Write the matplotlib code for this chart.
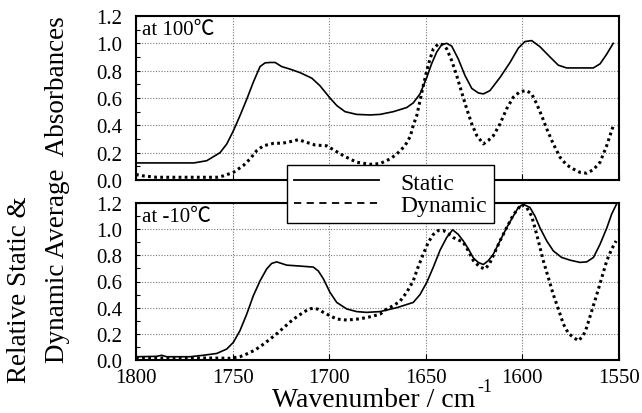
import matplotlib
matplotlib.use("Agg")
import matplotlib.pyplot as plt
from matplotlib.lines import Line2D
from matplotlib.ticker import MultipleLocator, FormatStrFormatter

plt.rcParams['font.family'] = ['Liberation Serif', 'Noto Sans CJK JP', 'DejaVu Sans']

# ---- spectra at 100 C ----
wn_hot_static = [1800, 1770, 1763.4, 1756.5, 1753, 1749.6, 1746.2, 1742.7, 1739.3, 1735.8,
                 1733.2, 1730.6, 1728, 1724.6, 1720, 1715, 1709, 1704.8, 1699.6, 1696.1,
                 1691.8, 1685.8, 1678.9, 1673.7, 1666.8, 1659.9, 1656.5, 1653, 1649.5,
                 1647, 1644.4, 1641.8, 1639.2, 1636.6, 1633.2, 1629.7, 1626.2, 1622.8,
                 1620.2, 1616.8, 1611.6, 1606.4, 1602.1, 1598.7, 1595.2, 1590.9, 1585.7,
                 1581.4, 1577.1, 1570.2, 1563.3, 1559.8, 1556.4, 1553]
hot_static = [0.125, 0.125, 0.141, 0.20, 0.264, 0.36, 0.47, 0.59, 0.715, 0.83,
              0.857, 0.86, 0.86, 0.83, 0.81, 0.785, 0.745, 0.69, 0.60, 0.545,
              0.50, 0.48, 0.476, 0.48, 0.50, 0.53, 0.564, 0.63, 0.75,
              0.85, 0.935, 0.99, 1.00, 0.98, 0.886, 0.764, 0.67, 0.637,
              0.63, 0.654, 0.75, 0.86, 0.965, 1.013, 1.02, 0.975, 0.90,
              0.84, 0.82, 0.82, 0.82, 0.85, 0.92, 1.00]

wn_hot_dynamic = [1800, 1796.2, 1789.3, 1758, 1754.8, 1749.6, 1744.5, 1741, 1737.5, 1734.1,
                  1728.9, 1723.8, 1719.4, 1716, 1711.6, 1707.3, 1701.3, 1697, 1692.7,
                  1685.8, 1678.9, 1673.7, 1668.5, 1665, 1660.8, 1658, 1656.5, 1654.7,
                  1653, 1651.3, 1649.5, 1647.8, 1646.1, 1643.5, 1641, 1639.2, 1636.6,
                  1634, 1631.4, 1628.8, 1626.2, 1623.6, 1620.2, 1617.6, 1615, 1611.6,
                  1608.2, 1604.7, 1601.2, 1597.8, 1595.2, 1592.6, 1590, 1587.4, 1584,
                  1580.5, 1577.1, 1573.6, 1570.2, 1566.7, 1563.3, 1559.8, 1556.4, 1552.9]
hot_dynamic = [0.04, 0.03, 0.02, 0.02, 0.03, 0.056, 0.105, 0.154, 0.215, 0.25,
               0.268, 0.27, 0.283, 0.295, 0.275, 0.256, 0.25, 0.215, 0.178,
               0.13, 0.115, 0.12, 0.154, 0.19, 0.25, 0.32, 0.40, 0.47,
               0.58, 0.69, 0.80, 0.886, 0.96, 0.996, 0.99, 0.96, 0.874,
               0.764, 0.64, 0.52, 0.41, 0.325, 0.264, 0.29, 0.325, 0.41,
               0.52, 0.606, 0.647, 0.654, 0.63, 0.557, 0.47, 0.374, 0.264,
               0.166, 0.11, 0.08, 0.056, 0.05, 0.075, 0.13, 0.25, 0.40]

# ---- spectra at -10 C ----
wn_cold_static = [1800, 1789.3, 1786.7, 1784.1, 1772, 1765.2, 1758.2, 1753, 1749.6, 1746.2,
                  1742.7, 1739.3, 1735.8, 1732.4, 1729.8, 1727.2, 1722, 1715.1, 1708.2,
                  1705.6, 1703, 1699.6, 1696.1, 1690.9, 1685.8, 1680.6, 1673.7, 1665,
                  1656.5, 1653, 1649.5, 1646.1, 1642.6, 1639.2, 1636.1, 1633.2, 1630.6,
                  1628, 1625.4, 1622.8, 1620.2, 1617.6, 1615, 1611.6, 1608.2, 1604.7,
                  1602.1, 1599.6, 1596.1, 1593.5, 1590.9, 1587.4, 1584, 1579.7, 1575.3,
                  1570.2, 1566.7, 1563.2, 1559.8, 1556.3, 1553.8, 1551]
cold_static = [0.025, 0.028, 0.036, 0.025, 0.025, 0.036, 0.05, 0.084, 0.135, 0.224,
               0.35, 0.49, 0.605, 0.695, 0.738, 0.75, 0.725, 0.718, 0.71,
               0.68, 0.62, 0.517, 0.44, 0.39, 0.37, 0.364, 0.37, 0.40,
               0.44, 0.50, 0.593, 0.71, 0.84, 0.936, 0.995, 0.96, 0.91,
               0.85, 0.78, 0.745, 0.73, 0.76, 0.81, 0.91, 1.01, 1.10,
               1.166, 1.19, 1.166, 1.10, 1.01, 0.91, 0.834, 0.784, 0.763,
               0.746, 0.75, 0.784, 0.885, 1.01, 1.115, 1.20]

wn_cold_dynamic = [1800, 1760, 1751.4, 1746.2, 1742.7, 1738.4, 1734.1, 1730.6, 1727.2,
                   1723.8, 1720.3, 1716.8, 1713.4, 1710.8, 1708.2, 1705.6, 1703, 1699.6,
                   1696.1, 1690.9, 1684, 1678.9, 1673.7, 1670.2, 1666.8, 1663.3, 1659.9,
                   1656.5, 1654, 1651.3, 1648.7, 1646.1, 1643.5, 1641, 1638.4, 1635.8,
                   1630.6, 1628, 1625.4, 1622.1, 1619.4, 1617.1, 1615, 1611.6, 1608.2,
                   1604.7, 1600.4, 1597.8, 1595.2, 1592.6, 1589.2, 1586.6, 1584, 1581.4,
                   1578.8, 1576.2, 1573.6, 1571, 1568.5, 1566.7, 1564.1, 1561.5, 1558.9,
                   1556.3, 1553.8, 1551.5]
cold_dynamic = [0.015, 0.015, 0.013, 0.025, 0.046, 0.076, 0.12, 0.16, 0.20,
                0.244, 0.29, 0.33, 0.364, 0.387, 0.397, 0.387, 0.364, 0.338,
                0.313, 0.305, 0.315, 0.33, 0.35, 0.39, 0.415, 0.45, 0.517,
                0.605, 0.71, 0.81, 0.90, 0.96, 0.99, 0.99, 0.967, 0.936,
                0.90, 0.834, 0.76, 0.712, 0.695, 0.733, 0.80, 0.91, 1.01,
                1.11, 1.19, 1.166, 1.10, 0.96, 0.76, 0.63, 0.50, 0.39,
                0.275, 0.204, 0.173, 0.147, 0.186, 0.25, 0.376, 0.50, 0.63,
                0.76, 0.847, 0.91]

panel_titles = ['at 100\u2103', 'at -10\u2103']
x_ticks = [1800, 1750, 1700, 1650, 1600, 1550]

W, H = 642, 414
fig = plt.figure(figsize=(W / 100, H / 100), dpi=100)
ax_top = fig.add_axes([136 / W, 1 - 181 / H, 483 / W, 164 / H])
ax_bot = fig.add_axes([136 / W, 1 - 361 / H, 483 / W, 157 / H])

dot_style = dict(color='black', lw=2.2, linestyle=(0, (0.9, 1.1)), dash_capstyle='butt')
solid_style = dict(color='black', lw=1.2)

series = [(ax_top, wn_hot_static, hot_static, wn_hot_dynamic, hot_dynamic),
          (ax_bot, wn_cold_static, cold_static, wn_cold_dynamic, cold_dynamic)]

for (ax, ws, s, wd, d), title in zip(series, panel_titles):
    ax.plot(wd, d, **dot_style)
    ax.plot(ws, s, **solid_style)
    ax.set_xlim(1800, 1550)
    ax.set_ylim(0, 1.2)
    ax.set_xticks(x_ticks)
    ax.yaxis.set_major_locator(MultipleLocator(0.2))
    ax.yaxis.set_minor_locator(MultipleLocator(0.1))
    ax.yaxis.set_major_formatter(FormatStrFormatter('%.1f'))
    ax.grid(True, which='major', color='#7a7a7a', linestyle=(0, (1, 1.5)), lw=0.8)
    ax.tick_params(axis='y', which='both', direction='in', length=3, width=0.8,
                   labelsize=15, pad=10)
    ax.tick_params(axis='x', direction='in', length=4, width=0.8, labelsize=15, pad=6)
    for sp in ax.spines.values():
        sp.set_linewidth(1.5)
    ax.text(0.012, 0.975, title, transform=ax.transAxes, ha='left', va='top', fontsize=15)

ax_top.tick_params(axis='x', labelbottom=False)

# axis titles
fig.text(20 / W, 1 - 290 / H, 'Relative Static &', rotation=90, ha='center', va='center',
         fontsize=19.5)
fig.text(58 / W, 1 - 190 / H, 'Dynamic Average  Absorbances', rotation=90, ha='center',
         va='center', fontsize=19.5)
fig.text(475 / W, 1 - 407 / H, 'Wavenumber / cm', ha='right', va='baseline',
         fontsize=20)
fig.text(477 / W, 1 - 392 / H, '-1', ha='left', va='baseline', fontsize=13)

# legend spanning both panels
handles = [Line2D([], [], color='black', lw=1.3),
           Line2D([], [], color='black', lw=1.3, linestyle=(0, (4, 3)))]
leg = fig.legend(handles, ['Static', 'Dynamic'], loc='upper left',
                 bbox_to_anchor=(287 / W, 1 - 166 / H), borderaxespad=0,
                 fontsize=17, handlelength=3.6, handletextpad=0.9, labelspacing=0.05,
                 borderpad=0.3, fancybox=False, framealpha=1, edgecolor='black')
leg.get_frame().set_linewidth(1.0)

fig.savefig('out.png', dpi=100)
